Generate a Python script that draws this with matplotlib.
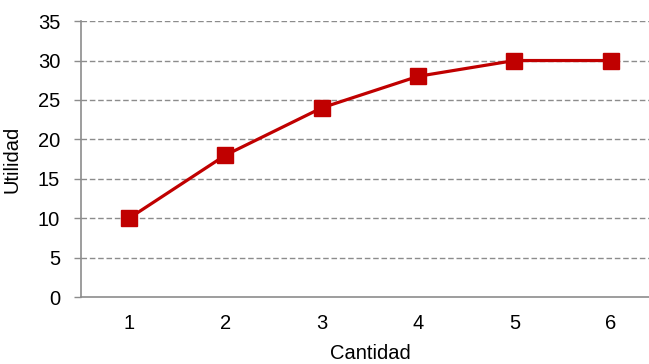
import matplotlib.pyplot as plt

plt.rcParams['font.family'] = ['Liberation Sans', 'DejaVu Sans']

cantidad = [1, 2, 3, 4, 5, 6]
utilidad = [10, 18, 24, 28, 30, 30]
y_ticks = [0, 5, 10, 15, 20, 25, 30, 35]

fig = plt.figure(figsize=(6.49, 3.64), dpi=100)
ax = fig.add_axes([0.1248, 0.184, 0.8906, 0.758])

gray = '#8c8c8c'
for v in y_ticks[1:]:
    ax.axhline(v, color=gray, linewidth=1, linestyle=(0, (4, 2)), zorder=1)

ax.plot(cantidad, utilidad, color='#c00000', linewidth=2.3, marker='s',
        markersize=12, markerfacecolor='#c00000', markeredgecolor='#c00000',
        zorder=3)

ax.set_xlim(0.5, 6.5)
ax.set_ylim(0, 35)
ax.set_xticks(cantidad)
ax.set_yticks(y_ticks)

for side in ['top', 'right']:
    ax.spines[side].set_visible(False)
for side in ['left', 'bottom']:
    ax.spines[side].set_color(gray)
    ax.spines[side].set_linewidth(1.2)

ax.tick_params(axis='y', direction='out', length=5, color=gray, width=1,
               labelsize=14.5, pad=10)
ax.tick_params(axis='x', length=0, labelsize=14.5, pad=12)

ax.set_xlabel('Cantidad', fontsize=14.5, labelpad=8.5)
ax.set_ylabel('Utilidad', fontsize=14.5, labelpad=12)

fig.savefig('out.png', dpi=100)
